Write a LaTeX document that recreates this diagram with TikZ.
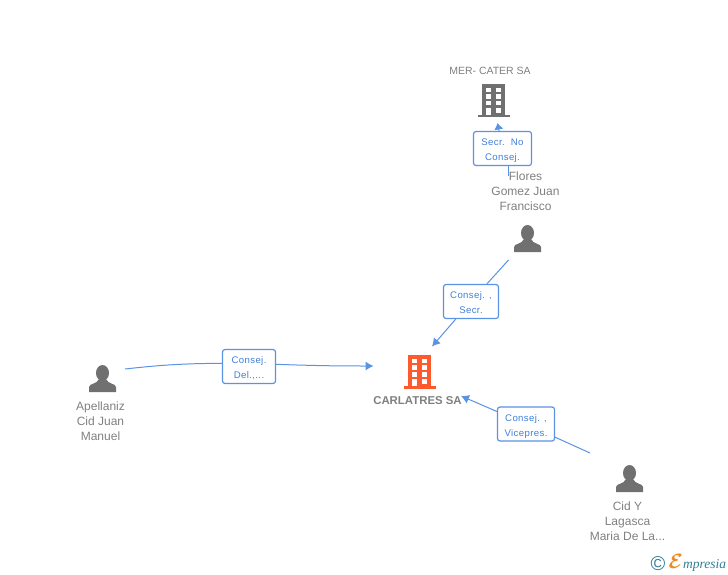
\documentclass[tikz,border=0pt]{standalone}
\usepackage{fontspec}
\setmainfont{Liberation Sans}
\newfontfamily\boxfont[LetterSpace=4]{Liberation Sans}
\newfontfamily\logofont{Liberation Serif}
\usetikzlibrary{arrows.meta,positioning}

\definecolor{linkblue}{HTML}{5A92E4}
\definecolor{boxblue}{HTML}{3F80DC}
\definecolor{textgrey}{HTML}{808080}
\definecolor{icongrey}{HTML}{707070}
\definecolor{iconred}{HTML}{FF5A2D}
\definecolor{logoteal}{HTML}{2F7F96}
\definecolor{logoorange}{HTML}{F08A1D}

\newcommand{\boxlines}[2]{\raisebox{-1.8pt}[\height][\depth]{\begin{tabular}{@{}c@{}}#1\\#2\end{tabular}}}

\tikzset{
personlabel/.style={text=textgrey, align=center, inner sep=0pt, font=\fontsize{12}{15}\selectfont},
linkbox/.style={draw=linkblue, line width=1.2pt, rounded corners=2.5pt, fill=white, text=boxblue, inner sep=0pt, minimum height=34pt, font=\boxfont\fontsize{9.6}{15}\selectfont},
link/.style={draw=linkblue, line width=1pt},
linkhead/.style={link, -{Latex[length=8pt,width=9pt]}},
pics/person/.style={code={
  \fill[icongrey] (0,-5.5) ellipse (6.5 and 8);
  \fill[icongrey] (-13.5,13.5) -- (-13.5,8.5) .. controls (-13.5,5) and (-5,5.5) .. (-4,1) -- (4,1) .. controls (5,5.5) and (13.5,5) .. (13.5,8.5) -- (13.5,13.5) -- cycle;
}},
pics/building/.style={code={
  \fill[#1] (-11.5,-16) rectangle (11.5,15);
  \fill[#1] (-16,15) rectangle (16,17.5);
  \foreach \x in {-8,2.2} \foreach \y in {-12.3,-5.7,1}
    \fill[white] (\x,\y) rectangle ++(5,4.5);
  \fill[white] (-8,7.7) rectangle ++(5,7.3);
  \fill[white] (2.2,7.7) rectangle ++(5,5);
}}
}

\begin{document}
\begin{tikzpicture}[x=1pt,y=-1pt]
\useasboundingbox (0,0) rectangle (728,575);

% the two companies
\pic at (493.5,100) {building=icongrey};
\pic at (419.5,371) {building=iconred};
\node[text=textgrey, inner sep=0pt, font=\fontsize{10.5}{12}\selectfont] (merLabel) at (490,71) {MER- CATER SA};
\node[text=textgrey, inner sep=0pt, font=\bfseries\fontsize{11.4}{14}\selectfont] (carlatresLabel) at (417.5,401) {CARLATRES SA};

% the people
\pic at (527.5,238.5) {person};
\pic at (102.5,378.5) {person};
\pic at (629.5,478.5) {person};
\node[personlabel] (floresLabel) at (525.5,191) {Flores\\Gomez Juan\\Francisco};
\node[personlabel] (apellanizLabel) at (100.5,421) {Apellaniz\\Cid Juan\\Manuel};
\node[personlabel] (cidLabel) at (627.5,521) {Cid Y\\Lagasca\\Maria De La...};

% the boxes on the links
\node[linkbox, minimum width=58pt] (secrBox) at (502.5,148.5) {\boxlines{Secr.\ \ No}{Consej.}};
\node[linkbox, minimum width=55pt] (delBox) at (471,301.5) {\boxlines{Consej. ,}{Secr.}};
\node[linkbox, minimum width=53pt] (consejBox) at (249,366.5) {\boxlines{Consej.}{Del.,...}};
\node[linkbox, minimum width=57pt] (viceBox) at (526,424) {\boxlines{Consej. ,}{Vicepres.}};

\coordinate (floresTop) at (508,176);
\coordinate (merEnd) at (497.5,123);
\coordinate (floresOut) at (508.5,260);
\coordinate (carlatresTop) at (432,346.5);
\coordinate (apellanizOut) at (125,369);
\coordinate (consejIn) at (222.5,363.3);
\coordinate (consejOut) at (275.5,364.3);
\coordinate (carlatresLeft) at (373.5,366);
\coordinate (cidOut) at (590,453);
\coordinate (carlatresRight) at (461,396);

\draw[link] (floresTop) -- (floresTop |- secrBox.south);
\draw[link, -{Latex[length=6.5pt,width=9.5pt]}] (secrBox) -- (merEnd);
\draw[link] (floresOut) -- (delBox);
\draw[linkhead] (delBox) -- (carlatresTop);
\draw[link] (apellanizOut) to[bend left=3] (consejIn);
\draw[linkhead] (consejOut) to[bend right=1] (carlatresLeft);
\draw[link] (cidOut) -- (viceBox);
\draw[linkhead] (viceBox) -- (carlatresRight);

% logo
\node[text=logoteal, inner sep=0pt, font=\fontsize{20}{20}\selectfont] (logoMark) at (658,564) {©};
\node[text=logoteal, inner sep=0pt, anchor=base west, font=\logofont\itshape\fontsize{13.5}{14}\selectfont] (logoText) at (683,568) {mpresia};
\node[text=logoorange, inner sep=0pt, anchor=base east, font=\fontsize{20}{20}\selectfont\boldmath] (logoE) at (logoText.base west) {$\mathcal{E}$};
\end{tikzpicture}
\end{document}
